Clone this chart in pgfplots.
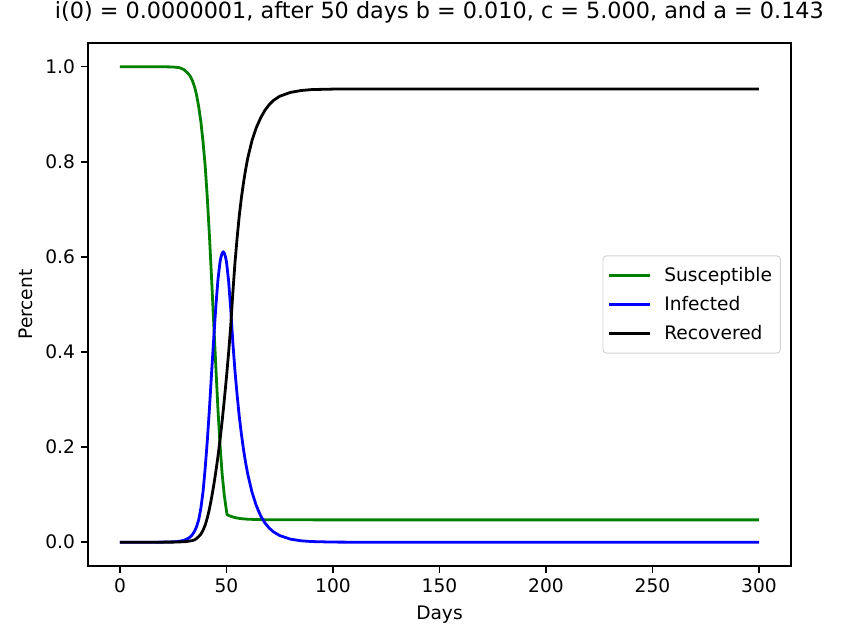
\documentclass[border=0pt]{standalone}
\usepackage{fontspec}
\setmainfont{DejaVu Sans}
\usepackage{pgfplots}
\pgfplotsset{compat=1.18}
\definecolor{mplgreen}{HTML}{008000}
\definecolor{mplblue}{HTML}{0000FF}

\begin{document}
\begin{tikzpicture}
\begin{axis}[
    name=ax,
    scale only axis,
    width=377.8pt, height=281.1pt,
    xmin=-15, xmax=315,
    ymin=-0.05, ymax=1.05,
    xtick={0,50,100,150,200,250,300},
    ytick={0,0.2,0.4,0.6,0.8,1.0},
    yticklabel style={/pgf/number format/.cd, fixed, fixed zerofill, precision=1},
    /pgf/number format/assume math mode=true,
    tick align=outside, tick pos=left,
    major tick length=3.5pt,
    every tick/.style={black, line width=0.8pt},
    axis line style={line width=0.8pt},
    ticklabel style={font=\fontsize{10}{12}\selectfont},
    label style={font=\fontsize{10}{12}\selectfont},
    xlabel={Days}, ylabel={Percent},
    title={i(0) = 0.0000001, after 50 days b = 0.010, c = 5.000, and a = 0.143},
    title style={font=\fontsize{12}{14}\selectfont, yshift=1pt},
    legend style={at={(1,0.5)}, anchor=east, xshift=-5.4pt,
        draw=gray!35, line width=0.5pt, rounded corners=2pt, fill=white,
        font=\fontsize{10}{12}\selectfont, row sep=2.5pt, inner xsep=2.5pt, inner ysep=4pt},
    legend cell align=left,
    legend image code/.code={\draw[#1] (0pt,0pt) -- (22pt,0pt); \path (27pt,0pt);},
    every axis plot/.append style={line width=1.5pt, line join=round},
]
\addplot[color=mplgreen] coordinates {
(0,1.0)(10,1.0)(20,1.0)(25,0.9995)(28,0.998)(30,0.994)(32,0.986)(33,0.980)(34,0.971)
(35,0.958)(36,0.940)(37,0.915)(38,0.884)(39,0.842)(40,0.792)(41,0.725)(42,0.645)
(43,0.556)(44,0.462)(45,0.37)(46,0.28)(47,0.203)(48,0.142)(49,0.098)(50,0.066)
(50.3,0.058)(51,0.0563)(52,0.0546)(53,0.0531)(54,0.0519)(55,0.0509)(57,0.0495)
(60,0.0484)(65,0.0476)(70,0.0473)(80,0.0471)(100,0.047)(300,0.047)};
\addplot[color=mplblue] coordinates {
(0,0)(15,0.0001)(20,0.0002)(25,0.0008)(28,0.002)(30,0.004)(32,0.008)(33,0.011)
(34,0.016)(35,0.023)(36,0.033)(37,0.048)(38,0.072)(39,0.106)(40,0.155)(41,0.213)
(42,0.28)(43,0.355)(44,0.427)(45,0.495)(46,0.552)(47,0.59)(47.5,0.601)(48,0.608)
(48.5,0.611)(49,0.608)(49.5,0.601)(50,0.59)(51,0.55)(52,0.49)(53,0.42)(54,0.36)
(55,0.31)(56,0.265)(57,0.228)(58,0.195)(59,0.167)(60,0.143)(62,0.105)(64,0.077)
(66,0.056)(68,0.041)(70,0.030)(72,0.022)(75,0.014)(80,0.0065)(85,0.003)(90,0.0014)
(100,0.0003)(110,0.00007)(120,0)(300,0)};
\addplot[color=black] coordinates {
(0,0)(25,0.0002)(30,0.001)(32,0.002)(34,0.0035)(35,0.005)(36,0.008)(37,0.012)
(38,0.017)(39,0.025)(40,0.036)(41,0.051)(42,0.07)(43,0.093)(44,0.119)(45,0.148)
(46,0.18)(47,0.216)(48,0.256)(49,0.30)(50,0.347)(51,0.398)(52,0.455)(53,0.525)
(54,0.588)(55,0.64)(56,0.686)(57,0.724)(58,0.756)(59,0.784)(60,0.808)(62,0.845)
(64,0.872)(66,0.892)(68,0.908)(70,0.92)(72,0.929)(75,0.938)(80,0.946)(85,0.950)
(90,0.952)(100,0.953)(300,0.953)};
\legend{Susceptible, Infected, Recovered}
\end{axis}
\pgfresetboundingbox
\path ([shift={(-47.3pt,-32.8pt)}]ax.south west) rectangle ([shift={(413.3pt,304.2pt)}]ax.south west);
\end{tikzpicture}
\end{document}
